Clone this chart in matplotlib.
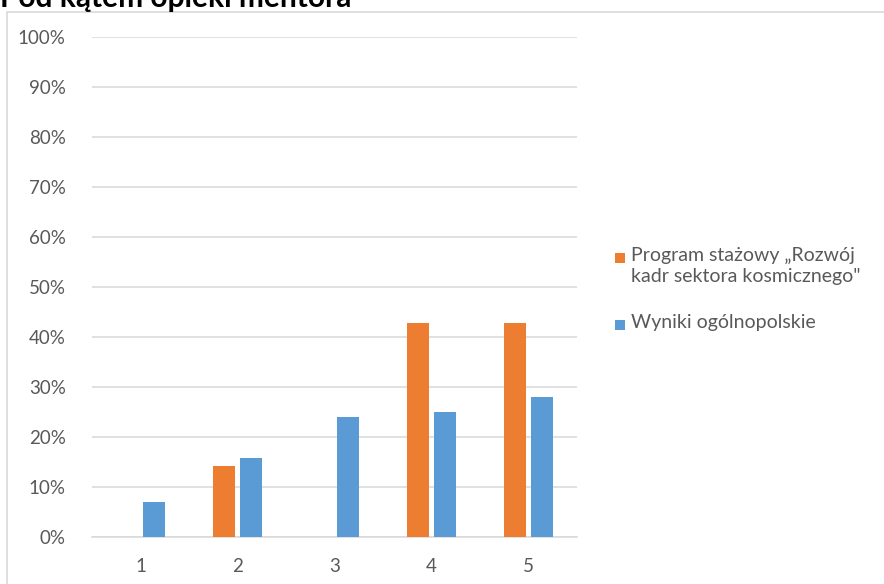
import matplotlib
matplotlib.use("Agg")
import matplotlib.pyplot as plt
import matplotlib.patches as mpatches
import numpy as np

plt.rcParams["font.family"] = ["Lato", "DejaVu Sans"]

TITLE = "Pod kątem opieki mentora"
CATEGORIES = ["1", "2", "3", "4", "5"]
SERIES_LABELS = ["Program stażowy \u201eRozwój\nkadr sektora kosmicznego\"",
                 "Wyniki ogólnopolskie"]
PROGRAM = [0.0, 14.29, 0.0, 42.86, 42.86]
NATIONAL = [7.0, 15.9, 24.1, 25.0, 28.1]
Y_TICKS = [0, 10, 20, 30, 40, 50, 60, 70, 80, 90, 100]

ORANGE = "#ED7D31"
BLUE = "#5B9BD5"
GRID = "#d9d9d9"
TEXT = "#595959"

W, H = 884, 584
fig = plt.figure(figsize=(W / 100, H / 100), dpi=100)

# chart frame
fig.patches.append(mpatches.Rectangle((7 / W, -0.1), 1.0, 1 - 12 / H + 0.1,
                                      transform=fig.transFigure, fill=False,
                                      edgecolor=GRID, linewidth=1.2))

fig.text(0, 1 - 7 / H, TITLE, fontsize=21.5, fontweight="bold",
         ha="left", va="baseline", color="black")

ax = fig.add_axes([92 / W, 1 - 537 / H, (577 - 92) / W, (537 - 37) / H])
x = np.arange(len(CATEGORIES))
width = 0.225
off = 0.14
ax.bar(x - off, PROGRAM, width, color=ORANGE, zorder=3)
ax.bar(x + off, NATIONAL, width, color=BLUE, zorder=3)

ax.set_xlim(-0.5, len(CATEGORIES) - 0.5)
ax.set_ylim(0, 100)
ax.set_yticks(Y_TICKS)
ax.set_yticklabels([f"{t}%" for t in Y_TICKS])
ax.set_xticks(x)
ax.set_xticklabels(CATEGORIES)
ax.tick_params(axis="both", length=0, labelsize=13.5, labelcolor=TEXT)
ax.tick_params(axis="y", pad=19)
ax.tick_params(axis="x", pad=15)
ax.yaxis.grid(True, color=GRID, linewidth=1.1, zorder=0)
for side in ["top", "right", "left"]:
    ax.spines[side].set_visible(False)
ax.spines["bottom"].set_color(GRID)
ax.spines["bottom"].set_linewidth(1.1)

# legend, handles aligned with the first text line
entries = [(ORANGE, SERIES_LABELS[0], 258), (BLUE, SERIES_LABELS[1], 325)]
for color, label, yc in entries:
    fig.patches.append(mpatches.Rectangle((615 / W, 1 - (yc + 5) / H), 10 / W, 10 / H,
                                          transform=fig.transFigure,
                                          facecolor=color, edgecolor="none"))
    fig.text(631 / W, 1 - (yc - 11) / H, label, fontsize=14, color=TEXT,
             ha="left", va="top", linespacing=1.25)

fig.savefig("out.png", dpi=100)
